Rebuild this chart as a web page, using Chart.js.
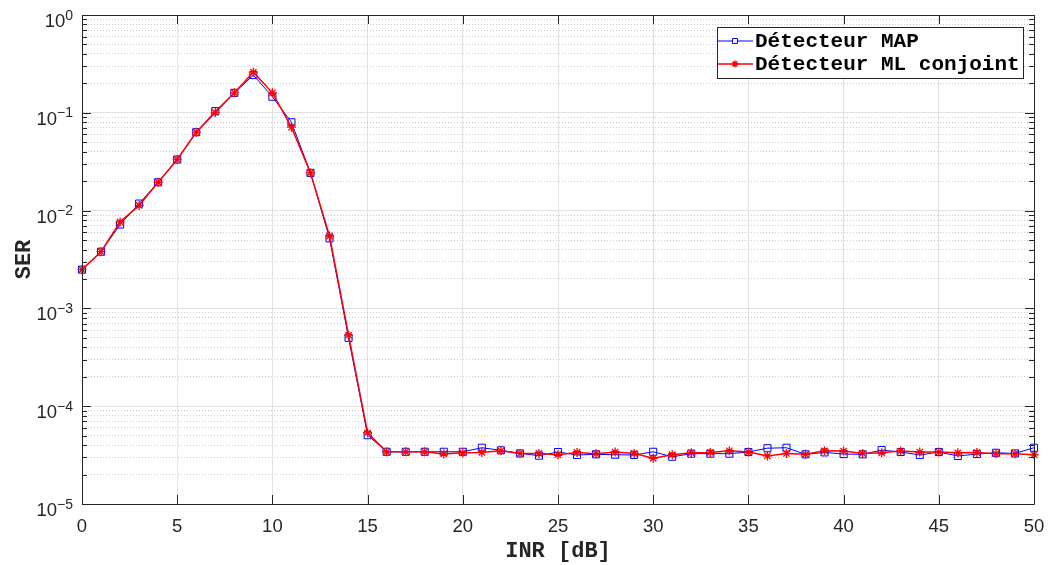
<!DOCTYPE html>
<html>
<head>
<meta charset="utf-8">
<script src="https://cdn.jsdelivr.net/npm/chart.js@4.4.1/dist/chart.umd.min.js"></script>
<style>
  html, body { margin: 0; padding: 0; background: #fff; }
  #wrap { width: 1050px; height: 565px; }
</style>
</head>
<body>
<div id="wrap"><canvas id="ser"></canvas></div>
<script>
const inr = [0, 1, 2, 3, 4, 5, 6, 7, 8, 9, 10, 11, 12, 13, 14, 15, 16, 17, 18, 19, 20,
    21, 22, 23, 24, 25, 26, 27, 28, 29, 30, 31, 32, 33, 34, 35, 36, 37, 38, 39, 40,
    41, 42, 43, 44, 45, 46, 47, 48, 49, 50];

const serMap = [2.49e-3, 3.8e-3, 7.2e-3, 1.18e-2, 1.95e-2, 3.33e-2, 6.33e-2, 0.104, 0.16, 0.243, 0.146,
    0.080, 0.0243, 5.2e-3, 5.0e-4, 5.05e-5,
    3.42e-5, 3.42e-5, 3.42e-5, 3.42e-5, 3.42e-5, 3.76e-5, 3.54e-5, 3.29e-5, 3.12e-5, 3.40e-5,
    3.17e-5, 3.22e-5, 3.19e-5, 3.17e-5, 3.42e-5, 3.04e-5, 3.27e-5, 3.27e-5, 3.27e-5, 3.40e-5,
    3.72e-5, 3.76e-5, 3.22e-5, 3.37e-5, 3.24e-5, 3.22e-5, 3.56e-5, 3.40e-5, 3.17e-5, 3.40e-5,
    3.10e-5, 3.24e-5, 3.34e-5, 3.29e-5, 3.76e-5];

const serMl = [2.49e-3, 3.8e-3, 7.66e-3, 1.13e-2, 1.95e-2, 3.33e-2, 6.33e-2, 0.101, 0.16, 0.26, 0.16,
    0.0713, 0.0243, 5.5e-3, 5.33e-4, 5.34e-5,
    3.42e-5, 3.42e-5, 3.42e-5, 3.25e-5, 3.34e-5, 3.37e-5, 3.50e-5, 3.29e-5, 3.29e-5, 3.19e-5,
    3.37e-5, 3.27e-5, 3.40e-5, 3.29e-5, 2.93e-5, 3.19e-5, 3.34e-5, 3.37e-5, 3.50e-5, 3.40e-5,
    3.10e-5, 3.29e-5, 3.22e-5, 3.50e-5, 3.48e-5, 3.29e-5, 3.34e-5, 3.48e-5, 3.40e-5, 3.40e-5,
    3.34e-5, 3.37e-5, 3.27e-5, 3.27e-5, 3.19e-5];

const xTicks = [0, 5, 10, 15, 20, 25, 30, 35, 40, 45, 50];
const yDecades = [-5, -4, -3, -2, -1, 0];
const seriesNames = ['Détecteur MAP', 'Détecteur ML conjoint'];

const AXIS = '#262626';
const isDecade = v => Math.abs(Math.log10(v) - Math.round(Math.log10(v))) < 1e-6;

// MATLAB-like box, inward ticks, 10^n labels and legend
const matlabAxes = {
    id: 'matlabAxes',
    afterDraw(chart) {
        const ctx = chart.ctx;
        const a = chart.chartArea;
        const xs = chart.scales.x, ys = chart.scales.y;
        ctx.save();
        ctx.strokeStyle = AXIS;
        ctx.lineWidth = 1;
        ctx.beginPath();
        ctx.rect(Math.round(a.left) + 0.5, Math.round(a.top) + 0.5,
            Math.round(a.right - a.left), Math.round(a.bottom - a.top));
        ctx.stroke();

        ctx.beginPath();
        xs.ticks.forEach(t => {
            const px = Math.round(xs.getPixelForValue(t.value)) + 0.5;
            ctx.moveTo(px, a.bottom); ctx.lineTo(px, a.bottom - 9);
            ctx.moveTo(px, a.top); ctx.lineTo(px, a.top + 9);
        });
        ys.ticks.forEach(t => {
            const py = Math.round(ys.getPixelForValue(t.value)) + 0.5;
            const len = isDecade(t.value) ? 9 : 5;
            ctx.moveTo(a.left, py); ctx.lineTo(a.left + len, py);
            ctx.moveTo(a.right, py); ctx.lineTo(a.right - len, py);
        });
        ctx.stroke();

        // y labels 10^n
        ctx.fillStyle = AXIS;
        ctx.textBaseline = 'alphabetic';
        yDecades.forEach(e => {
            const py = ys.getPixelForValue(Math.pow(10, e));
            const exp = String(e).replace('-', '\u2212');
            ctx.font = '14px "Liberation Sans", Arial, sans-serif';
            ctx.textAlign = 'right';
            ctx.fillText(exp, 73, py + 4.5);
            const w = ctx.measureText(exp).width;
            ctx.font = '18.5px "Liberation Sans", Arial, sans-serif';
            ctx.fillText('10', 73 - w, py + 12);
        });

        // legend
        const lx = 717, ly = 27, lw = 306, lh = 51;
        ctx.fillStyle = '#fff';
        ctx.fillRect(lx, ly, lw, lh);
        ctx.strokeStyle = AXIS;
        ctx.strokeRect(lx + 0.5, ly + 0.5, lw, lh);
        const rows = [41, 64];
        chart.data.datasets.forEach((ds, i) => {
            const y = rows[i];
            ctx.strokeStyle = ds.borderColor;
            ctx.lineWidth = ds.borderWidth;
            ctx.beginPath();
            ctx.moveTo(lx + 1, y); ctx.lineTo(lx + 36, y);
            ctx.stroke();
            Chart.helpers.drawPoint(ctx, {
                pointStyle: ds.pointStyle,
                radius: ds.pointStyle === 'star' ? 3.5 : 3.5,
                rotation: 0,
                borderWidth: 1
            }, lx + 18, y);
            ctx.fillStyle = '#000';
            ctx.font = 'bold 21px "Liberation Mono", "Courier New", monospace';
            ctx.textAlign = 'left';
            ctx.textBaseline = 'middle';
            ctx.fillText(ds.label, lx + 38, y + 1);
        });
        ctx.restore();
    }
};

new Chart(document.getElementById('ser'), {
    type: 'line',
    data: {
        datasets: [{
            label: seriesNames[0],
            data: inr.map((x, i) => ({ x: x, y: serMap[i] })),
            borderColor: '#0000ff',
            backgroundColor: 'rgba(0,0,0,0)',
            borderWidth: 1,
            pointStyle: 'rect',
            pointRadius: 5,
            pointBorderWidth: 1,
            pointBackgroundColor: 'rgba(0,0,0,0)',
            pointBorderColor: '#0000ff',
            clip: false,
            order: 1
        }, {
            label: seriesNames[1],
            data: inr.map((x, i) => ({ x: x, y: serMl[i] })),
            borderColor: '#ff0000',
            backgroundColor: '#ff0000',
            borderWidth: 1.5,
            pointStyle: 'star',
            pointRadius: 4.5,
            pointBorderWidth: 1.3,
            pointBorderColor: '#ff0000',
            clip: false,
            order: 0
        }]
    },
    options: {
        responsive: true,
        maintainAspectRatio: false,
        animation: false,
        layout: { padding: { top: 15, right: 16, left: 0, bottom: 0 } },
        plugins: {
            legend: { display: false },
            tooltip: { enabled: false }
        },
        scales: {
            x: {
                type: 'linear',
                min: 0,
                max: 50,
                afterBuildTicks: s => { s.ticks = xTicks.map(v => ({ value: v })); },
                afterFit: s => { s.height = 61; s.paddingLeft = 0; s.paddingRight = 0; },
                ticks: {
                    color: AXIS,
                    padding: 12,
                    font: { family: '"Liberation Sans", Arial, sans-serif', size: 18.5 },
                    maxRotation: 0
                },
                grid: { color: '#e2e2e2', drawTicks: false },
                border: { display: false },
                title: {
                    display: true,
                    text: 'INR [dB]',
                    color: AXIS,
                    font: { family: '"Liberation Mono", "Courier New", monospace', size: 22, weight: 'bold' },
                    padding: { top: 0, bottom: 0 }
                }
            },
            y: {
                type: 'logarithmic',
                min: 1e-5,
                max: 1,
                afterBuildTicks: s => {
                    const t = [];
                    yDecades.forEach(e => {
                        for (let m = 1; m <= 9; m++) {
                            if (e === 0 && m > 1) break;
                            t.push({ value: m * Math.pow(10, e), major: m === 1 });
                        }
                    });
                    s.ticks = t;
                },
                afterFit: s => { s.width = 82; s.paddingTop = 0; s.paddingBottom = 0; },
                ticks: { display: false, autoSkip: false },
                grid: {
                    drawTicks: false,
                    color: c => (c.tick && isDecade(c.tick.value)) ? '#e2e2e2' : '#cccccc'
                },
                border: {
                    display: false,
                    dash: c => (c.tick && !isDecade(c.tick.value)) ? [1, 2] : []
                },
                title: {
                    display: true,
                    text: 'SER',
                    color: AXIS,
                    font: { family: '"Liberation Mono", "Courier New", monospace', size: 22, weight: 'bold' },
                    padding: { top: 11, bottom: 0 }
                }
            }
        }
    },
    plugins: [matlabAxes]
});
</script>
</body>
</html>
